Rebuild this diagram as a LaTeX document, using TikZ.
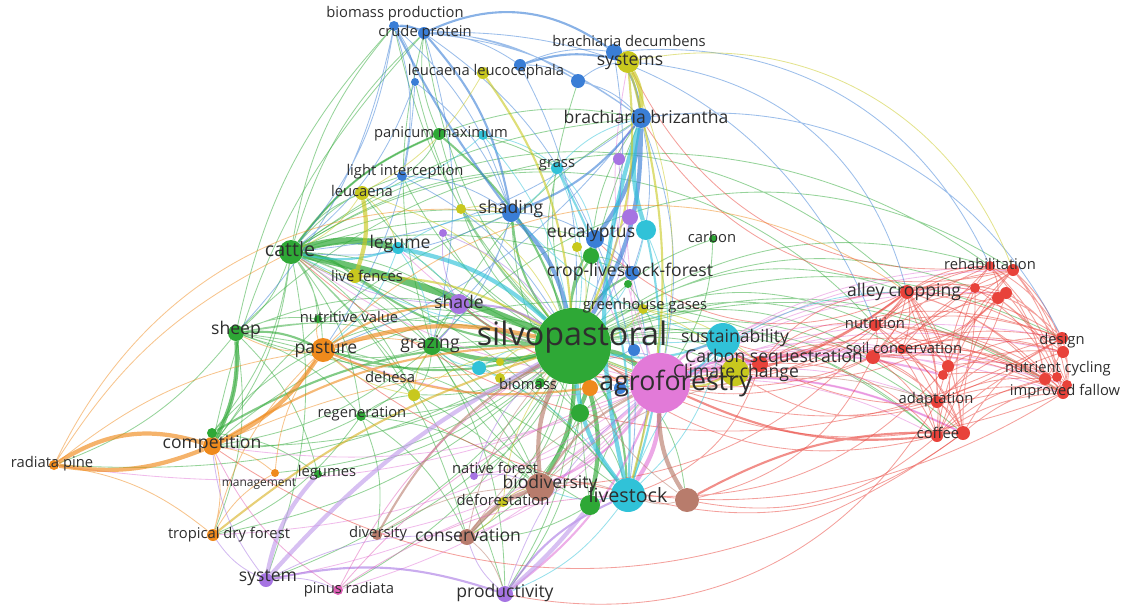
\documentclass[tikz,border=0pt]{standalone}
\usepackage{fontspec}
\setmainfont{Open Sans}
\usepackage{tikz}
\definecolor{vGreen}{HTML}{2EA836}
\definecolor{vRed}{HTML}{E8423A}
\definecolor{vBlue}{HTML}{3A7ED6}
\definecolor{vYellow}{HTML}{C8C81E}
\definecolor{vPurple}{HTML}{A674E2}
\definecolor{vCyan}{HTML}{30C2D8}
\definecolor{vOrange}{HTML}{EF8A1C}
\definecolor{vBrown}{HTML}{B87C6C}
\definecolor{vPink}{HTML}{E27AD8}
\definecolor{vRose}{HTML}{E060B8}
\definecolor{vText}{HTML}{2E2E2E}
\pgfdeclarelayer{bg}
\pgfsetlayers{bg,main}

\begin{document}
\begin{tikzpicture}[x=0.025cm,y=-0.025cm]
		\tikzstyle{dot} = [circle, inner sep=0pt, fill=#1]
		\tikzstyle{lbl} = [text=vText, inner sep=0pt]
		\tikzstyle{lblS} = [lbl, font=\fontsize{8.5}{9}\selectfont]
		\tikzstyle{lblM} = [lbl, font=\fontsize{10.5}{11}\selectfont]
		\tikzstyle{lblL} = [lbl, font=\fontsize{12.5}{13}\selectfont]
		\tikzstyle{lblXL} = [lbl, font=\fontsize{14}{15}\selectfont]
		\tikzstyle{lk} = [opacity=.5, line width=.6pt, bend left=15]
		\tikzstyle{lkM} = [lk, opacity=.6, line width=1.5pt]
		\tikzstyle{lkT} = [lk, opacity=.65, line width=3pt]
		\tikzstyle{lkH} = [lk, opacity=.7, line width=5pt]

		\useasboundingbox (0,0) rectangle (1131,606);

		% blue / top
		\node[dot=vBlue, minimum size=0.25cm] (bioProd) at (394,26) {};
		\node[dot=vBlue, minimum size=0.3cm] (crudeProt) at (424,33) {};
		\node[dot=vBlue, minimum size=0.4cm] (bDecumb) at (614,52) {};
		\node[dot=vYellow, minimum size=0.55cm] (systems) at (628,62) {};
		\node[dot=vBlue, minimum size=0.2cm] (leucLeucA) at (415,82) {};
		\node[dot=vYellow, minimum size=0.3cm] (leucLeucB) at (483,73) {};
		\node[dot=vBlue, minimum size=0.3cm] (leucLeucC) at (520,65) {};
		\node[dot=vBlue, minimum size=0.35cm] (leucLeucD) at (578,81) {};
		\node[dot=vBlue, minimum size=0.5cm] (bBriz) at (641,118) {};
		\node[dot=vGreen, minimum size=0.3cm] (panicum) at (439,134) {};
		\node[dot=vCyan, minimum size=0.25cm] (panicumB) at (483,135) {};
		\node[dot=vCyan, minimum size=0.3cm] (grass) at (557,168) {};
		\node[dot=vPurple, minimum size=0.3cm] (purpA) at (619,159) {};
		\node[dot=vBlue, minimum size=0.25cm] (lightInt) at (402,176) {};
		\node[dot=vYellow, minimum size=0.35cm] (leucaena) at (362,193) {};
		\node[dot=vBlue, minimum size=0.45cm] (shading) at (511,213) {};
		\node[dot=vYellow, minimum size=0.25cm] (yelA) at (461,209) {};
		\node[dot=vPurple, minimum size=0.4cm] (purpB) at (630,217) {};
		\node[dot=vCyan, minimum size=0.5cm] (cyanA) at (646,230) {};
		\node[dot=vPurple, minimum size=0.2cm] (purpC) at (443,233) {};
		\node[dot=vBlue, minimum size=0.45cm] (eucal) at (595,239) {};
		\node[dot=vGreen, minimum size=0.2cm] (carbon) at (713,239) {};

		% middle
		\node[dot=vGreen, minimum size=0.6cm] (cattle) at (291,252) {};
		\node[dot=vCyan, minimum size=0.3cm] (legume) at (398,248) {};
		\node[dot=vYellow, minimum size=0.25cm] (yelB) at (577,247) {};
		\node[dot=vGreen, minimum size=0.4cm] (greenA) at (591,256) {};
		\node[dot=vBlue, minimum size=0.35cm] (cropLF) at (632,273) {};
		\node[dot=vGreen, minimum size=0.2cm] (greenB) at (628,284) {};
		\node[dot=vYellow, minimum size=0.35cm] (liveFen) at (355,276) {};
		\node[dot=vPurple, minimum size=0.5cm] (shade) at (459,304) {};
		\node[dot=vYellow, minimum size=0.25cm] (ghg) at (643,309) {};
		\node[dot=vGreen, minimum size=0.2cm] (nutriVal) at (318,319) {};
		\node[dot=vGreen, minimum size=0.4cm] (sheep) at (236,333) {};
		\node[dot=vOrange, minimum size=0.6cm] (pasture) at (323,350) {};
		\node[dot=vGreen, minimum size=0.45cm] (grazing) at (432,346) {};
		\node[dot=vGreen, minimum size=1.9cm] (silvo) at (573,346) {};
		\node[dot=vCyan, minimum size=0.85cm] (sustain) at (723,340) {};
		\node[dot=vBlue, minimum size=0.3cm] (blueA) at (634,350) {};
		\node[dot=vRed, minimum size=0.4cm] (carbSeq) at (760,364) {};
		\node[dot=vYellow, minimum size=0.7cm] (climate) at (735,372) {};
		\node[dot=vPink, minimum size=1.5cm] (agro) at (660,383) {};
		\node[dot=vOrange, minimum size=0.4cm] (orangeA) at (590,388) {};
		\node[dot=vBlue, minimum size=0.3cm] (blueB) at (620,388) {};
		\node[dot=vCyan, minimum size=0.35cm] (cyanB) at (479,368) {};
		\node[dot=vYellow, minimum size=0.2cm] (yelC) at (500,362) {};
		\node[dot=vYellow, minimum size=0.25cm] (yelD) at (500,378) {};
		\node[dot=vYellow, minimum size=0.3cm] (dehesa) at (414,395) {};
		\node[dot=vGreen, minimum size=0.25cm] (biomass) at (540,383) {};
		\node[dot=vGreen, minimum size=0.25cm] (regen) at (361,416) {};
		\node[dot=vGreen, minimum size=0.45cm] (greenC) at (580,413) {};

		% bottom / left
		\node[dot=vOrange, minimum size=0.45cm] (compet) at (212,446) {};
		\node[dot=vGreen, minimum size=0.25cm] (greenD) at (212,433) {};
		\node[dot=vOrange, minimum size=0.25cm] (radiata) at (54,465) {};
		\node[dot=vOrange, minimum size=0.2cm] (manage) at (275,473) {};
		\node[dot=vGreen, minimum size=0.2cm] (legumes) at (318,474) {};
		\node[dot=vPurple, minimum size=0.2cm] (native) at (474,476) {};
		\node[dot=vBrown, minimum size=0.7cm] (biodiv) at (540,487) {};
		\node[dot=vYellow, minimum size=0.25cm] (defor) at (503,502) {};
		\node[dot=vGreen, minimum size=0.5cm] (greenE) at (590,505) {};
		\node[dot=vCyan, minimum size=0.85cm] (livestock) at (628,495) {};
		\node[dot=vBrown, minimum size=0.6cm] (brownA) at (687,500) {};
		\node[dot=vOrange, minimum size=0.3cm] (tropDry) at (213,535) {};
		\node[dot=vBrown, minimum size=0.25cm] (divers) at (377,535) {};
		\node[dot=vBrown, minimum size=0.4cm] (conserv) at (467,537) {};
		\node[dot=vPurple, minimum size=0.35cm] (system) at (266,580) {};
		\node[dot=vRose, minimum size=0.25cm] (pinus) at (338,590) {};
		\node[dot=vPurple, minimum size=0.4cm] (product) at (505,594) {};

		% red cluster
		\node[dot=vRed, minimum size=0.25cm] (rehabA) at (990,266) {};
		\node[dot=vRed, minimum size=0.3cm] (rehabB) at (1013,270) {};
		\node[dot=vRed, minimum size=0.35cm] (alley) at (907,292) {};
		\node[dot=vRed, minimum size=0.25cm] (redA) at (975,288) {};
		\node[dot=vRed, minimum size=0.3cm] (redB) at (1006,293) {};
		\node[dot=vRed, minimum size=0.3cm] (redC) at (998,298) {};
		\node[dot=vRed, minimum size=0.3cm] (nutrition) at (875,325) {};
		\node[dot=vRed, minimum size=0.35cm] (soilA) at (873,357) {};
		\node[dot=vRed, minimum size=0.25cm] (soilB) at (902,349) {};
		\node[dot=vRed, minimum size=0.3cm] (redD) at (948,366) {};
		\node[dot=vRed, minimum size=0.25cm] (redE) at (943,375) {};
		\node[dot=vRed, minimum size=0.3cm] (designA) at (1062,338) {};
		\node[dot=vRed, minimum size=0.3cm] (designB) at (1063,352) {};
		\node[dot=vRed, minimum size=0.3cm] (nutCycA) at (1045,379) {};
		\node[dot=vRed, minimum size=0.25cm] (nutCycB) at (1057,377) {};
		\node[dot=vRed, minimum size=0.3cm] (fallowA) at (1063,393) {};
		\node[dot=vRed, minimum size=0.25cm] (fallowB) at (1067,385) {};
		\node[dot=vRed, minimum size=0.3cm] (adapt) at (937,402) {};
		\node[dot=vRed, minimum size=0.3cm] (coffeeA) at (937,436) {};
		\node[dot=vRed, minimum size=0.35cm] (coffeeB) at (963,433) {};

		% labels
		\node[lblM] (tBioProd) at (395,14) {biomass production};
		\node[lblM] (tCrude) at (425,33) {crude protein};
		\node[lblM] (tDecumb) at (629,41) {brachiaria decumbens};
		\node[lblL] (tSystems) at (630,62) {systems};
		\node[lblM] (tLeucLeuc) at (486,72) {leucaena leucocephala};
		\node[lblL] (tBriz) at (646,117) {brachiaria brizantha};
		\node[lblM] (tPanicum) at (441,134) {panicum maximum};
		\node[lblM] (tGrass) at (557,165) {grass};
		\node[lblM] (tLightInt) at (405,172) {light interception};
		\node[lblM] (tLeucaena) at (362,191) {leucaena};
		\node[lblL] (tShading) at (511,209) {shading};
		\node[lblL] (tEucal) at (591,233) {eucalyptus};
		\node[lblM] (tCarbon) at (712,237) {carbon};
		\node[lblXL] (tCattle) at (290,249) {cattle};
		\node[lblL] (tLegume) at (400,244) {legume};
		\node[lblL] (tCropLF) at (630,272) {crop-livestock-forest};
		\node[lblM] (tLiveFen) at (367,276) {live fences};
		\node[lblL] (tShade) at (459,302) {shade};
		\node[lblM] (tGhg) at (645,306) {greenhouse gases};
		\node[lblM] (tNutriVal) at (349,317) {nutritive value};
		\node[lblL] (tSheep) at (236,330) {sheep};
		\node[lblL] (tPasture) at (326,350) {pasture};
		\node[lblL] (tGrazing) at (430,344) {grazing};
		\node[lbl, font=\fontsize{23}{24}\selectfont] (tSilvo) at (572,337) {silvopastoral};
		\node[lblL] (tSustain) at (735,338) {sustainability};
		\node[lblL] (tCarbSeq) at (774,358) {Carbon sequestration};
		\node[lblL] (tClimate) at (736,373) {Climate change};
		\node[lbl, font=\fontsize{19}{20}\selectfont] (tAgro) at (676,383) {agroforestry};
		\node[lblM] (tDehesa) at (390,377) {dehesa};
		\node[lblM] (tBiomass) at (528,384) {biomass};
		\node[lblM] (tRegen) at (362,414) {regeneration};
		\node[lblL] (tCompet) at (212,444) {competition};
		\node[lblM] (tRadiata) at (52,464) {radiata pine};
		\node[lblS] (tManage) at (259,484) {management};
		\node[lblM] (tLegumes) at (327,473) {legumes};
		\node[lblM] (tNative) at (495,468) {native forest};
		\node[lblL] (tBiodiv) at (550,484) {biodiversity};
		\node[lblM] (tDefor) at (503,500) {deforestation};
		\node[lblXL] (tLivestock) at (628,495) {livestock};
		\node[lblM] (tTropDry) at (229,535) {tropical dry forest};
		\node[lblM] (tDivers) at (378,534) {diversity};
		\node[lblL] (tConserv) at (468,535) {conservation};
		\node[lblL] (tSystem) at (268,578) {system};
		\node[lblM] (tPinus) at (349,590) {pinus radiata};
		\node[lblL] (tProduct) at (505,593) {productivity};
		\node[lblM] (tRehab) at (990,264) {rehabilitation};
		\node[lblL] (tAlley) at (904,292) {alley cropping};
		\node[lblM] (tNutrition) at (875,323) {nutrition};
		\node[lblM] (tSoil) at (904,348) {soil conservation};
		\node[lblM] (tDesign) at (1062,341) {design};
		\node[lblM] (tNutCyc) at (1058,369) {nutrient cycling};
		\node[lblM] (tFallow) at (1065,392) {improved fallow};
		\node[lblM] (tAdapt) at (936,400) {adaptation};
		\node[lblM] (tCoffee) at (938,433) {coffee};

		\begin{pgfonlayer}{bg}
		% green links
		\draw[lk, vGreen] (silvo) to (sheep) (silvo) to (compet) (silvo) to (regen) (silvo) to (leucaena) (silvo) to (panicum) (silvo) to (grass) (silvo) to (crudeProt) (silvo) to (bioProd) (silvo) to (lightInt) (silvo) to (carbon) (silvo) to (ghg) (silvo) to (sustain) (silvo) to (carbSeq) (silvo) to (climate) (silvo) to (conserv) (silvo) to (divers) (silvo) to (product) (silvo) to (system) (silvo) to (tropDry) (silvo) to (pinus) (silvo) to (native) (silvo) to (defor) (silvo) to (dehesa) (silvo) to (radiata) (silvo) to (manage) (silvo) to (legumes) (silvo) to (leucLeucA) (silvo) to (leucLeucD) (silvo) to (purpC) (silvo) to (yelA);
		\draw[lk, vGreen, bend left=25] (silvo) to (alley) (silvo) to (rehabA) (silvo) to (nutrition) (silvo) to (soilA) (silvo) to (designA) (silvo) to (nutCycA) (silvo) to (fallowA) (silvo) to (adapt) (silvo) to (coffeeA) (silvo) to (brownA) (silvo) to (redA) (silvo) to (soilB) (silvo) to (coffeeB);
		\draw[lk, vGreen] (cattle) to (sheep) (cattle) to (pasture) (cattle) to (grazing) (cattle) to (leucaena) (cattle) to (compet) (cattle) to (regen) (cattle) to (shade) (cattle) to (shading) (cattle) to (panicum) (cattle) to (bioProd) (cattle) to (crudeProt) (cattle) to (lightInt) (cattle) to (biodiv) (cattle) to (product) (cattle) to (livestock) (cattle) to (conserv) (cattle) to (eucal) (cattle) to (bBriz) (cattle) to (system) (cattle) to (dehesa) (cattle) to (nutriVal) (cattle) to (greenD) (cattle) to (grass) (cattle) to (cropLF) (cattle) to (greenC);
		\draw[lk, vGreen] (sheep) to (compet) (sheep) to (grazing) (sheep) to (regen) (sheep) to (radiata) (sheep) to (nutriVal) (sheep) to (legumes) (sheep) to (tropDry) (sheep) to (livestock) (sheep) to (biodiv) (sheep) to (agro) (sheep) to (shade) (sheep) to (bioProd) (grazing) to (pasture) (grazing) to (regen) (grazing) to (shade) (grazing) to (dehesa) (grazing) to (compet) (grazing) to (biodiv) (grazing) to (livestock) (grazing) to (product) (grazing) to (agro) (grazing) to (bBriz) (grazing) to (crudeProt);
		\draw[lk, vGreen] (greenC) to (biodiv) (greenC) to (livestock) (greenC) to (agro) (greenC) to (conserv) (greenC) to (product) (greenC) to (shading) (greenE) to (conserv) (greenE) to (agro) (greenE) to (grazing) (greenE) to (bBriz) (panicum) to (bBriz) (panicum) to (crudeProt) (panicum) to (lightInt) (panicum) to (grass) (greenA) to (eucal) (greenA) to (cropLF) (greenA) to (bBriz) (regen) to (compet) (regen) to (dehesa) (regen) to (biodiv) (regen) to (conserv) (regen) to (divers) (regen) to (tropDry) (greenD) to (compet) (greenD) to (legumes) (carbon) to (agro) (greenB) to (agro) (biomass) to (silvo) (nutriVal) to (silvo) (compet) to (shading) (compet) to (crudeProt);
		\draw[lk, vGreen, bend left=40] (cattle) to (alley) (sheep) to (rehabA) (compet) to (coffeeA) (greenD) to (agro) (grazing) to (rehabB) (cattle) to (nutrition);
		\draw[lkM, vGreen] (silvo) to (pasture) (silvo) to (shading) (silvo) to (shade) (silvo) to (eucal) (silvo) to (cropLF) (silvo) to (liveFen) (silvo) to (greenA) (cattle) to (panicum) (cattle) to (liveFen) (sheep) to (pasture) (panicum) to (silvo) (greenD) to (silvo) (silvo) to (livestock);
		\draw[lkT, vGreen] (silvo) to (grazing) (silvo) to (biodiv) (silvo) to (greenC) (silvo) to (greenE) (silvo) to (agro) (sheep) to (compet);
		\draw[lkH, vGreen] (cattle) to (legume) (cattle) to[bend left=5] (silvo);

		% pink links
		\draw[lk, vPink] (agro) to (conserv) (agro) to (system) (agro) to (divers) (agro) to (pinus) (agro) to (coffeeA) (agro) to (coffeeB) (agro) to (adapt) (agro) to (fallowA) (agro) to (nutCycA) (agro) to (designA) (agro) to (designB) (agro) to (soilA) (agro) to (soilB) (agro) to (nutrition) (agro) to (alley) (agro) to (rehabA) (agro) to (rehabB) (agro) to (redA) (agro) to (redD) (agro) to (bBriz) (agro) to (systems) (agro) to (cropLF) (agro) to (shade) (agro) to (pasture) (agro) to (compet) (agro) to (cattle) (agro) to (eucal) (agro) to (legume) (agro) to (tropDry) (agro) to (native) (agro) to (defor) (agro) to (radiata) (agro) to (redB) (agro) to (fallowB) (agro) to (nutCycB);
		\draw[lkM, vPink] (agro) to (biodiv) (agro) to (product) (agro) to (carbSeq) (agro) to (climate) (agro) to (sustain) (agro) to (coffeeB) (agro) to (redE);
		\draw[lkT, vPink] (agro) to (livestock);

		% red links
		\draw[lk, vRed] (alley) to (rehabA) (alley) to (rehabB) (alley) to (redA) (alley) to (redB) (alley) to (redC) (alley) to (nutrition) (alley) to (soilA) (alley) to (soilB) (alley) to (redD) (alley) to (designA) (alley) to (designB) (alley) to (nutCycA) (alley) to (fallowA) (alley) to (adapt) (alley) to (coffeeA) (alley) to (coffeeB);
		\draw[lk, vRed] (nutrition) to (rehabA) (nutrition) to (rehabB) (nutrition) to (redB) (nutrition) to (soilA) (nutrition) to (redD) (nutrition) to (designA) (nutrition) to (nutCycA) (nutrition) to (fallowA) (nutrition) to (fallowB) (nutrition) to (adapt) (nutrition) to (coffeeA) (nutrition) to (coffeeB) (soilA) to (rehabA) (soilA) to (redC) (soilA) to (designA) (soilA) to (designB) (soilA) to (nutCycA) (soilA) to (fallowA) (soilA) to (adapt) (soilA) to (coffeeA) (soilA) to (coffeeB) (soilA) to (redE);
		\draw[lk, vRed] (soilB) to (rehabB) (soilB) to (designB) (soilB) to (fallowB) (soilB) to (coffeeB) (redD) to (rehabA) (redD) to (designA) (redD) to (nutCycB) (redD) to (coffeeA) (redE) to (fallowA) (redE) to (redB) (adapt) to (rehabB) (adapt) to (designA) (adapt) to (nutCycA) (adapt) to (fallowA) (adapt) to (coffeeA) (adapt) to (coffeeB) (coffeeA) to (designB) (coffeeA) to (fallowA) (coffeeA) to (nutCycB) (coffeeA) to (rehabB) (coffeeB) to (designA) (coffeeB) to (fallowB) (coffeeB) to (redA) (coffeeB) to (redC);
		\draw[lk, vRed] (rehabA) to (designA) (rehabA) to (fallowA) (rehabA) to (nutCycA) (rehabA) to (redC) (rehabB) to (designB) (rehabB) to (fallowB) (rehabB) to (nutCycB) (rehabB) to (redA) (redA) to (designA) (redA) to (fallowA) (redB) to (nutCycA) (redB) to (designB) (redC) to (fallowB) (redC) to (nutCycB) (designA) to (designB) (designA) to (nutCycA) (designA) to (fallowA) (designB) to (fallowB) (nutCycA) to (fallowA) (nutCycB) to (fallowB) (redA) to (coffeeA) (redB) to (adapt) (redC) to (soilB) (redD) to (alley) (redE) to (designB) (soilB) to (nutCycA);
		\draw[lk, vRed, bend left=25] (carbSeq) to (alley) (carbSeq) to (nutrition) (carbSeq) to (soilA) (carbSeq) to (designA) (carbSeq) to (fallowA) (carbSeq) to (coffeeA) (carbSeq) to (silvo) (carbSeq) to (livestock) (alley) to (silvo) (alley) to (climate) (nutrition) to (sustain) (soilA) to (silvo) (coffeeA) to (silvo) (coffeeB) to (livestock) (adapt) to (climate) (designA) to (agro) (fallowA) to (silvo) (rehabA) to (agro) (rehabB) to (silvo) (redD) to (livestock) (coffeeA) to (brownA) (alley) to (biodiv) (soilA) to (brownA) (nutCycA) to (sustain) (redB) to (climate);
		\draw[lk, vRed, bend left=35] (rehabA) to (systems) (rehabB) to (bBriz) (alley) to (eucal) (designA) to (cattle) (fallowA) to (pasture) (coffeeB) to (compet) (nutrition) to (shade) (adapt) to (product);
		\draw[lkM, vRed] (carbSeq) to (climate) (carbSeq) to (sustain) (coffeeA) to (agro) (brownA) to (coffeeB) (alley) to (agro);

		% blue links
		\draw[lk, vBlue] (bioProd) to (leucLeucA) (bioProd) to (bBriz) (bioProd) to (shading) (bioProd) to (lightInt) (bioProd) to (cattle) (crudeProt) to (leucLeucC) (crudeProt) to (bBriz) (crudeProt) to (eucal) (crudeProt) to (leucLeucD) (leucLeucC) to (bDecumb) (leucLeucC) to (leucLeucD) (leucLeucD) to (bBriz) (leucLeucD) to (systems) (bDecumb) to (systems) (bBriz) to (cropLF) (bBriz) to (agro) (bBriz) to (pasture) (bBriz) to (cattle) (lightInt) to (shading) (lightInt) to (leucaena) (shading) to (eucal) (shading) to (shade) (shading) to (cattle) (eucal) to (cropLF) (eucal) to (silvo) (cropLF) to (livestock) (blueA) to (agro) (blueA) to (silvo) (blueB) to (agro) (blueB) to (silvo) (leucLeucA) to (shading) (leucLeucA) to (cattle) (leucLeucA) to (pasture) (leucLeucC) to (silvo) (bDecumb) to (silvo) (crudeProt) to (grazing) (bioProd) to (sheep) (eucal) to (livestock) (shading) to (grazing) (lightInt) to (silvo);
		\draw[lk, vBlue, bend left=35] (bDecumb) to (rehabA) (systems) to (alley) (bBriz) to (designA) (crudeProt) to (nutrition);
		\draw[lkM, vBlue] (bioProd) to (crudeProt) (crudeProt) to[bend left=30] (bDecumb) (bioProd) to[bend right=5] (shading) (crudeProt) to (shading) (bDecumb) to (bBriz) (bBriz) to (shading) (leucLeucC) to (systems);
		\draw[lkT, vBlue] (bBriz) to (eucal) (bBriz) to (silvo) (shading) to (silvo);

		% cyan links
		\draw[lk, vCyan] (legume) to (shade) (legume) to (grazing) (legume) to (pasture) (grass) to (silvo) (grass) to (bBriz) (grass) to (shading) (grass) to (eucal) (cyanA) to (silvo) (cyanA) to (agro) (cyanB) to (silvo) (cyanB) to (grazing) (panicumB) to (grass) (panicumB) to (leucaena) (panicumB) to (silvo) (sustain) to (livestock) (sustain) to (climate) (livestock) to (biodiv) (livestock) to (product) (sustain) to (shading) (sustain) to (cattle) (legume) to (shading) (cyanB) to (livestock) (livestock) to[bend left=35] (alley);
		\draw[lkM, vCyan] (sustain) to (agro) (sustain) to (silvo) (cyanA) to (livestock) (legume) to (cattle) (grass) to (livestock);
		\draw[lkT, vCyan] (legume) to (silvo) (cyanA) to (bBriz) (livestock) to (silvo) (livestock) to (bBriz);

		% yellow links
		\draw[lk, vYellow] (systems) to (agro) (leucLeucB) to (leucaena) (leucaena) to (cattle) (leucaena) to (legume) (leucaena) to (silvo) (liveFen) to (cattle) (yelA) to (shading) (yelA) to (silvo) (yelB) to (silvo) (ghg) to (silvo) (ghg) to (climate) (ghg) to (carbSeq) (climate) to (silvo) (dehesa) to (silvo) (dehesa) to (grazing) (dehesa) to (pasture) (defor) to (biodiv) (defor) to (conserv) (defor) to (silvo) (yelC) to (silvo) (yelD) to (silvo) (systems) to[bend left=40] (rehabB);
		\draw[lkM, vYellow] (systems) to (silvo) (leucLeucB) to (silvo) (liveFen) to (silvo) (climate) to (agro) (systems) to (livestock);
		\draw[lkT, vYellow] (systems) to (bBriz) (leucaena) to (liveFen);

		% orange links
		\draw[lk, vOrange] (pasture) to (sheep) (pasture) to (grazing) (pasture) to (nutriVal) (compet) to (manage) (compet) to (tropDry) (compet) to (agro) (radiata) to (pasture) (radiata) to[bend left=35] (shading) (tropDry) to (manage) (manage) to (pasture) (orangeA) to (silvo) (orangeA) to (agro) (tropDry) to (pasture) (radiata) to (tropDry) (radiata) to (cattle) (pasture) to[bend left=40] (alley);
		\draw[lkM, vOrange] (compet) to (silvo) (orangeA) to (pasture) (pasture) to (shade);
		\draw[lkT, vOrange] (pasture) to (compet) (pasture) to (silvo) (compet) to[bend left=15] (radiata) (radiata) to[bend left=25] (compet);
		\draw[lkM, vYellow!60!vOrange] (tropDry) to[bend left=10] (silvo);

		% purple links
		\draw[lk, vPurple] (shade) to (cattle) (shade) to (grazing) (shade) to (purpC) (purpA) to (bBriz) (purpA) to (silvo) (purpB) to (silvo) (purpB) to (eucal) (purpC) to (silvo) (native) to (silvo) (native) to (biodiv) (system) to (pinus) (system) to (tropDry) (system) to (conserv) (product) to (agro) (product) to (conserv) (system) to (compet);
		\draw[lkM, vPurple] (shade) to (silvo) (system) to (product) (product) to (livestock);
		\draw[lkT, vPurple!70] (system) to (legumes) (system) to[bend left=10] (silvo) (product) to[bend right=5] (greenE);

		% brown and rose links
		\draw[lk, vBrown] (conserv) to (silvo) (conserv) to (product) (conserv) to (agro) (divers) to (biodiv) (brownA) to (silvo) (brownA) to (livestock) (biodiv) to (livestock) (biodiv) to[bend left=30] (adapt);
		\draw[lkM, vBrown] (divers) to (silvo) (biodiv) to (agro);
		\draw[lkT, vBrown] (conserv) to (biodiv) (biodiv) to (silvo) (brownA) to (agro);
		\draw[lk, vRose] (pinus) to (agro) (pinus) to (silvo) (pinus) to (compet) (pinus) to (livestock);
		\end{pgfonlayer}
\end{tikzpicture}
\end{document}
